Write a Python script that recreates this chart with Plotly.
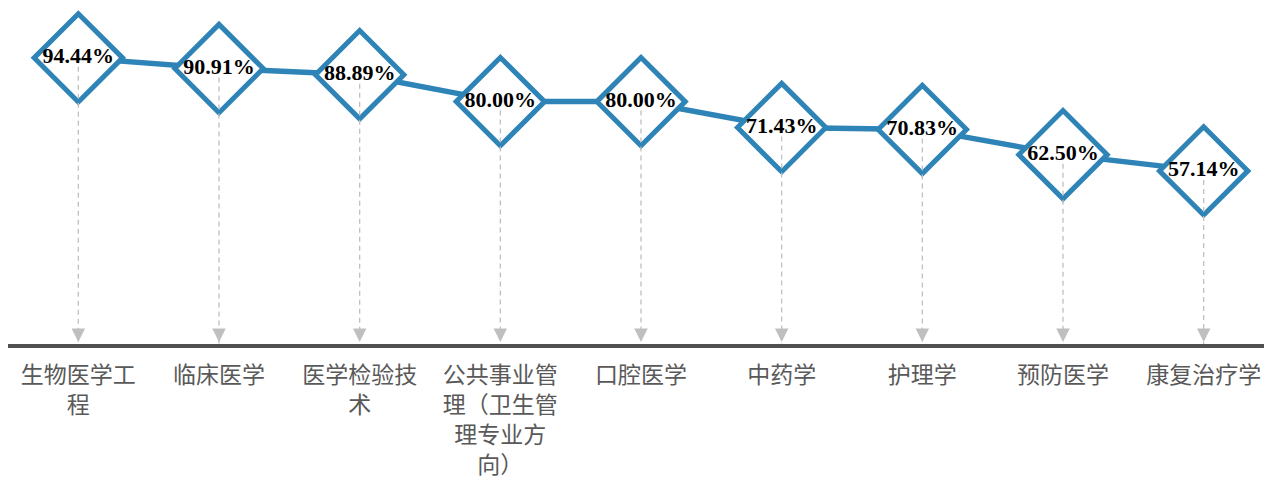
import plotly.graph_objects as go

categories = ["生物医学工<br>程", "临床医学", "医学检验技<br>术", "公共事业管<br>理（卫生管<br>理专业方<br>向）",
              "口腔医学", "中药学", "护理学", "预防医学", "康复治疗学"]
values = [94.44, 90.91, 88.89, 80.00, 80.00, 71.43, 70.83, 62.50, 57.14]
labels = [f"{v:.2f}%" for v in values]

blue = "#2E84B6"
grey = "#BFBFBF"
idx = list(range(len(categories)))

fig = go.Figure()

# main line with diamond markers
fig.add_trace(go.Scatter(
    x=idx, y=values, mode="lines+markers",
    line=dict(color=blue, width=5.5),
    marker=dict(symbol="diamond", size=68, color="white",
                line=dict(color=blue, width=5)),
    hoverinfo="skip", showlegend=False,
))

# dashed drop lines
for i, v in zip(idx, values):
    fig.add_trace(go.Scatter(
        x=[i, i], y=[v, 0], mode="lines",
        line=dict(color=grey, width=1.3, dash="5px,4px"),
        hoverinfo="skip", showlegend=False,
    ))

# value labels
fig.add_trace(go.Scatter(
    x=idx, y=values, mode="text", text=labels, textposition="middle center",
    textfont=dict(family="Liberation Serif", size=22, color="black", weight="bold"),
    hoverinfo="skip", showlegend=False,
))

# arrowheads
for i in idx:
    fig.add_annotation(x=i, y=0, ax=0, ay=-14, axref="pixel", ayref="pixel",
                       xref="x", yref="y", text="", showarrow=True,
                       arrowhead=2, arrowsize=1.8, arrowwidth=1.5,
                       arrowcolor=grey, standoff=2)

fig.update_layout(
    width=1266, height=470,
    margin=dict(l=0, r=0, t=0, b=134),
    plot_bgcolor="white", paper_bgcolor="white",
    xaxis=dict(
        range=[-0.5, len(categories) - 0.5],
        tickmode="array", tickvals=idx, ticktext=categories,
        showgrid=False, zeroline=False, automargin=False,
        showline=True, linecolor="#505050", linewidth=3.5,
        ticks="", ticklabelstandoff=8,
        tickfont=dict(family="Noto Sans CJK SC", size=23, color="#595959"),
    ),
    yaxis=dict(range=[0, 110.9], visible=False, showgrid=False, zeroline=False,
               automargin=False),
)

fig.write_html("out.html")
